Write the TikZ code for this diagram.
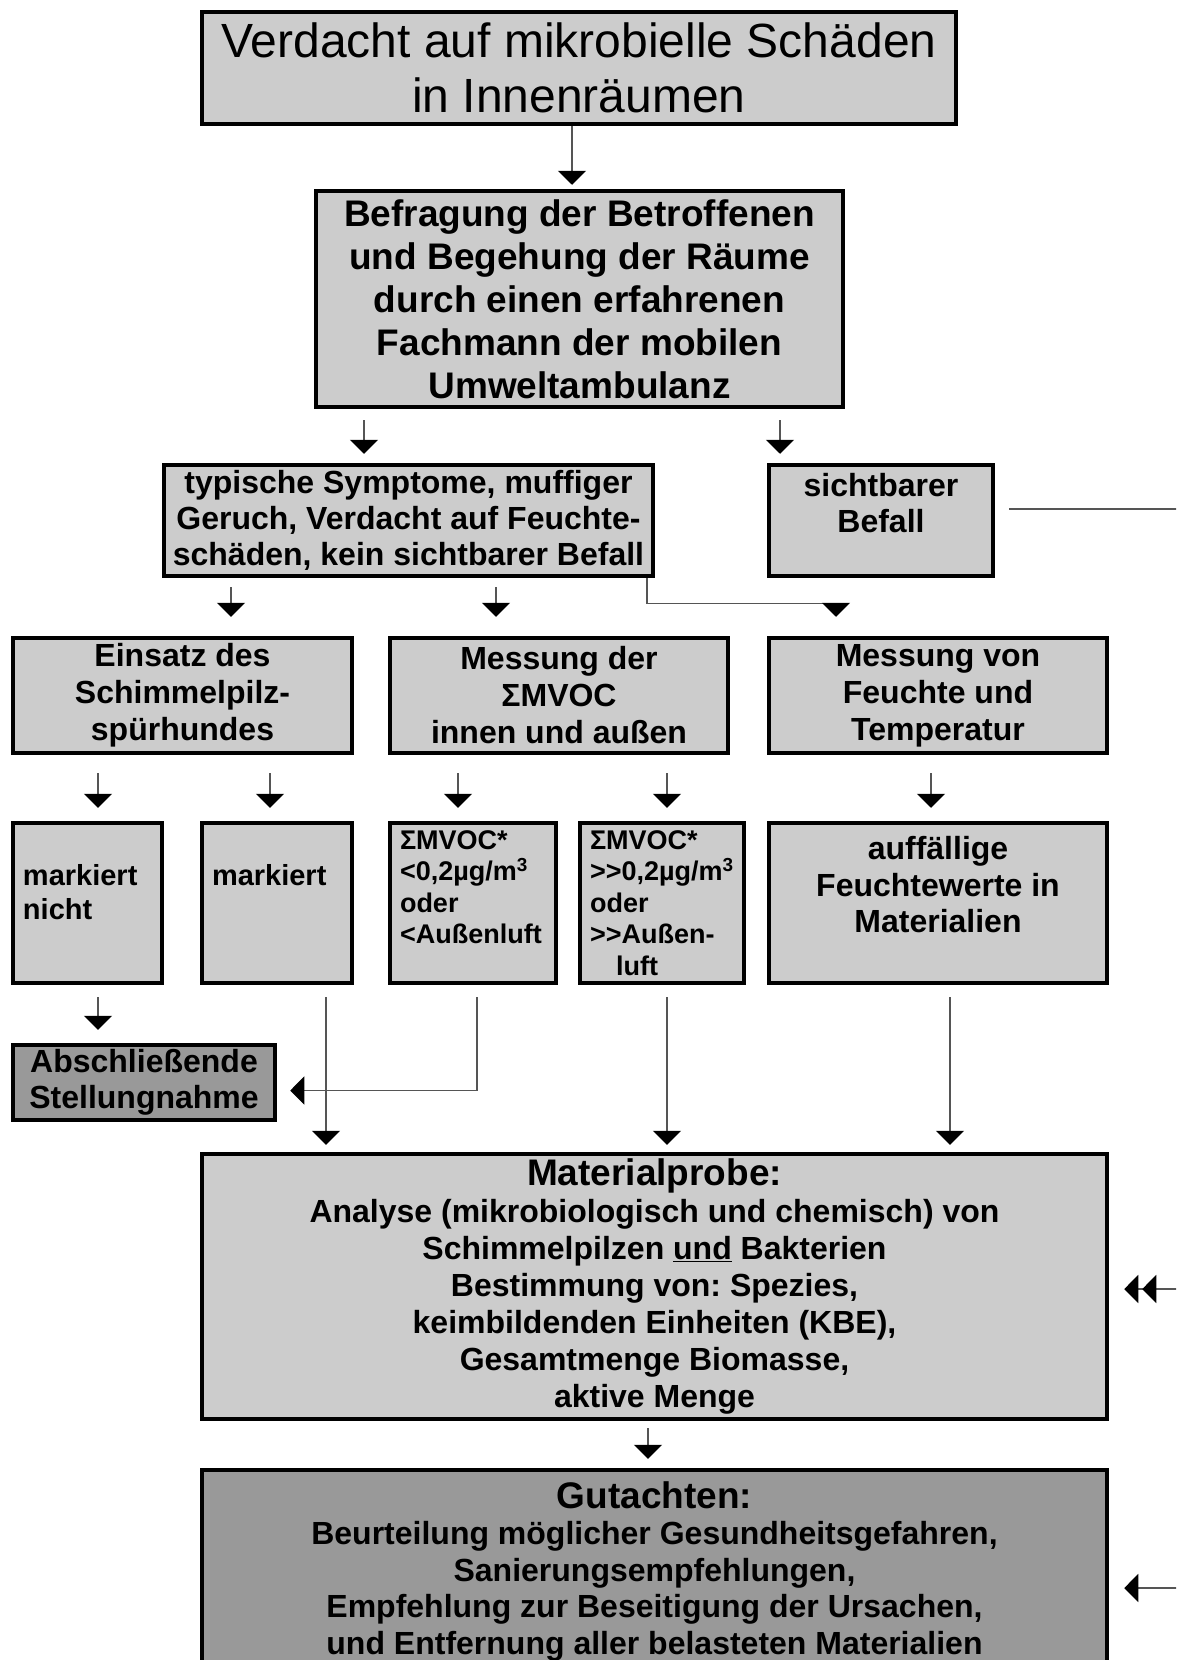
\documentclass[tikz,border=0pt]{standalone}
\usepackage{fontspec}
\setmainfont{Liberation Sans}
\usepackage{xcolor}
\usetikzlibrary{arrows.meta}
\frenchspacing
\definecolor{boxgray}{HTML}{CCCCCC}
\definecolor{deepgray}{HTML}{999999}
\definecolor{linegray}{HTML}{555555}
\tikzset{
  flowbox/.style={draw=black,fill=boxgray,line width=4.5pt,
                  align=center,inner sep=0pt,
                  font=\bfseries\fontsize{32}{36.5}\selectfont},
  endbox/.style={flowbox,fill=deepgray},
  notebox/.style={flowbox,align=left,inner xsep=10pt,
                  font=\bfseries\fontsize{29}{34}\selectfont},
  mvocbox/.style={notebox,font=\bfseries\fontsize{27}{31.5}\selectfont},
  flowarr/.style={-{Triangle[length=14pt,width=28pt,color=black]},
                  line width=1.2pt,draw=linegray},
  dblarr/.style={-{Triangle[length=14pt,width=28pt,color=black,sep=4pt]
                   Triangle[length=14pt,width=28pt,color=black]},
                 line width=1.2pt,draw=linegray},
  plainline/.style={line width=1.2pt,draw=linegray}
}

\begin{document}
\begin{tikzpicture}[x=1pt,y=-1pt]
  \useasboundingbox (0,0) rectangle (1176,1660);
  \clip (0,0) rectangle (1176,1660);
  % ---- columns of the connectors ----
  \coordinate (ktop) at (572,0);
  \coordinate (kl) at (364,0);
  \coordinate (kr) at (780,0);
  \coordinate (kc1) at (231,0);
  \coordinate (kc2) at (496,0);
  \coordinate (kc3) at (647,0);
  \coordinate (kc4) at (836,0);
  \coordinate (kd1) at (98,0);
  \coordinate (kd2) at (270,0);
  \coordinate (kd3) at (458,0);
  \coordinate (kd4) at (667,0);
  \coordinate (kd5) at (931,0);
  \coordinate (ke2) at (326,0);
  \coordinate (ke3) at (477,0);
  \coordinate (ke5) at (950,0);
  \coordinate (kf) at (648,0);
  \coordinate (rim1) at (1180,509);
  \coordinate (rim2) at (1180,1289);
  \coordinate (rim3) at (1180,1588);
  % ---- start and survey ----
  \node[flowbox,font=\fontsize{48}{55}\selectfont,minimum width=754pt,minimum height=112pt]
    (verd) at (579,68) {Verdacht auf mikrobielle Schäden\\in Innenräumen};
  \node[flowbox,font=\bfseries\fontsize{37}{43}\selectfont,minimum width=527pt,minimum height=216pt]
    (befr) at (579.5,299) {Befragung der Betroffenen\\und Begehung der Räume\\durch einen erfahrenen\\Fachmann der mobilen\\Umweltambulanz};
  \node[flowbox,font=\bfseries\fontsize{32}{36}\selectfont,minimum width=489pt,minimum height=111pt]
    (sympt) at (408.5,520.5) {typische Symptome, muffiger\\Geruch, Verdacht auf Feuchte-\\schäden, kein sichtbarer Befall};
  \node[flowbox,font=\bfseries\fontsize{32}{36}\selectfont,minimum width=224pt,minimum height=111pt]
    (befall) at (881,520.5) {sichtbarer\\Befall\\\mbox{}};
  % ---- measurements ----
  \node[flowbox,font=\bfseries\fontsize{32}{37}\selectfont,minimum width=339pt,minimum height=115pt]
    (hund) at (182.5,695.5) {Einsatz des\\Schimmelpilz-\\spürhundes};
  \node[flowbox,font=\bfseries\fontsize{32}{37}\selectfont,minimum width=338pt,minimum height=115pt]
    (mvoc) at (559,695.5) {Messung der\\ΣMVOC\\innen und außen};
  \node[flowbox,font=\bfseries\fontsize{32}{37}\selectfont,minimum width=338pt,minimum height=115pt]
    (feu) at (938,695.5) {Messung von\\Feuchte und\\Temperatur};
  % ---- results ----
  \node[notebox,text width=129pt,minimum height=160pt]
    (nicht) at (87.5,903) {markiert\\nicht\\[-12pt]\mbox{}};
  \node[notebox,text width=130pt,minimum height=160pt]
    (mark) at (277,903) {markiert\\\mbox{}\\[-12pt]\mbox{}};
  \node[mvocbox,text width=146pt,minimum height=160pt]
    (low) at (473,903) {ΣMVOC*\\<0,2µg/m\textsuperscript{3}\\oder\\<Außenluft\\\mbox{}};
  \node[mvocbox,text width=144pt,minimum height=160pt]
    (high) at (662,903) {ΣMVOC*\\>{}>0,2µg/m\textsuperscript{3}\\oder\\>{}>Außen-\\\hspace*{26pt}luft};
  \node[flowbox,minimum width=338pt,minimum height=160pt]
    (feuwert) at (938,903) {auffällige\\Feuchtewerte in\\Materialien\\\mbox{}};
  \node[endbox,font=\bfseries\fontsize{32}{36}\selectfont,minimum width=262pt,minimum height=75pt]
    (schluss) at (144,1082.5) {Abschließende\\Stellungnahme};
  % ---- sample and report ----
  \node[flowbox,font=\bfseries\fontsize{32}{37}\selectfont,minimum width=905pt,minimum height=265pt]
    (probe) at (654.5,1286.5) {{\fontsize{37}{42}\selectfont Materialprobe:}\\Analyse (mikrobiologisch und chemisch) von\\Schimmelpilzen \underline{und} Bakterien\\Bestimmung von: Spezies,\\keimbildenden Einheiten (KBE),\\Gesamtmenge Biomasse,\\aktive Menge};
  \node[endbox,minimum width=905pt,minimum height=202pt]
    (gutacht) at (654.5,1571) {{\fontsize{37}{42}\selectfont Gutachten:}\\Beurteilung möglicher Gesundheitsgefahren,\\Sanierungsempfehlungen,\\Empfehlung zur Beseitigung der Ursachen,\\und Entfernung aller belasteten Materialien};
  % ---- connectors ----
  \draw[flowarr,shorten >=4pt] (verd.south -| ktop) -- (befr.north -| ktop);
  \draw[flowarr,shorten <=11pt,shorten >=9pt] (befr.south -| kl) -- (sympt.north -| kl);
  \draw[flowarr,shorten <=11pt,shorten >=9pt] (befr.south -| kr) -- (befall.north -| kr);
  \draw[flowarr,shorten <=9pt,shorten >=19pt] (sympt.south -| kc1) -- (hund.north -| kc1);
  \draw[flowarr,shorten <=9pt,shorten >=19pt] (sympt.south -| kc2) -- (mvoc.north -| kc2);
  \draw[flowarr,shorten >=19pt] (sympt.south -| kc3) -- ++(0,25) -| (feu.north -| kc4);
  \draw[plainline,shorten <=14pt] ([yshift=11.5pt]befall.east) -- (rim1);
  \draw[flowarr,shorten <=18pt,shorten >=13pt] (hund.south -| kd1) -- (nicht.north -| kd1);
  \draw[flowarr,shorten <=18pt,shorten >=13pt] (hund.south -| kd2) -- (mark.north -| kd2);
  \draw[flowarr,shorten <=18pt,shorten >=13pt] (mvoc.south -| kd3) -- (low.north -| kd3);
  \draw[flowarr,shorten <=18pt,shorten >=13pt] (mvoc.south -| kd4) -- (high.north -| kd4);
  \draw[flowarr,shorten <=18pt,shorten >=13pt] (feu.south -| kd5) -- (feuwert.north -| kd5);
  \draw[flowarr,shorten <=12pt,shorten >=13pt] (nicht.south -| kd1) -- (schluss.north -| kd1);
  \draw[flowarr,shorten <=12pt,shorten >=13pt] (low.south -| ke3) |- ([yshift=-8pt]schluss.east);
  \draw[flowarr,shorten <=12pt,shorten >=7pt] (mark.south -| ke2) -- (probe.north -| ke2);
  \draw[flowarr,shorten <=12pt,shorten >=7pt] (high.south -| kd4) -- (probe.north -| kd4);
  \draw[flowarr,shorten <=12pt,shorten >=7pt] (feuwert.south -| ke5) -- (probe.north -| ke5);
  \draw[dblarr,shorten >=15pt] (rim2) -- ([yshift=-2.5pt]probe.east);
  \draw[flowarr,shorten <=7pt,shorten >=9pt] (probe.south -| kf) -- (gutacht.north -| kf);
  \draw[flowarr,shorten >=15pt] (rim3) -- ([yshift=-17pt]gutacht.east);
\end{tikzpicture}
\end{document}
